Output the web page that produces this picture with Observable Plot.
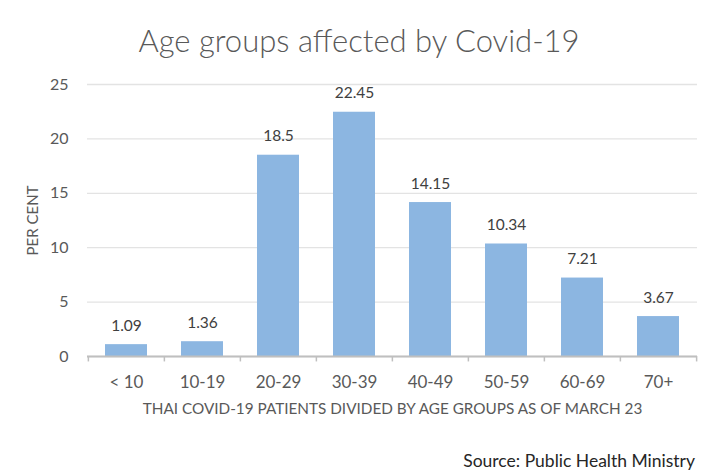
<!DOCTYPE html>
<html>
<head>
<meta charset="utf-8">
<script src="https://cdn.jsdelivr.net/npm/d3@7"></script>
<script src="https://cdn.jsdelivr.net/npm/@observablehq/plot@0.6"></script>
<style>
  html, body { margin: 0; padding: 0; background: #fff; }
  #wrap { position: relative; width: 718px; height: 476px; overflow: hidden; font-family: Lato, "Open Sans", sans-serif; }
  #title { position: absolute; left: 0; width: 718px; top: 20px; line-height: 40px; text-align: center; font-size: 31px; color: #595959; font-weight: 300; }
  #source { position: absolute; right: 23px; top: 449px; line-height: 24px; font-size: 17.5px; color: #262626; font-weight: 400; }
  #chart { position: absolute; left: 0; top: 0; }
</style>
</head>
<body>
<div id="wrap">
  <div id="chart"></div>
  <div id="title">Age groups affected by Covid-19</div>
  <div id="source">Source: Public Health Ministry</div>
</div>
<script>
const categories = ["< 10", "10-19", "20-29", "30-39", "40-49", "50-59", "60-69", "70+"];
const values = [1.09, 1.36, 18.5, 22.45, 14.15, 10.34, 7.21, 3.67];
const yTicks = [0, 5, 10, 15, 20, 25];
const yLabel = "PER CENT";
const xLabel = "THAI COVID-19 PATIENTS DIVIDED BY AGE GROUPS AS OF MARCH 23";

const data = categories.map((c, i) => ({category: c, value: values[i]}));
const step = (697 - 87) / categories.length;

const chart = Plot.plot({
  width: 718,
  height: 476,
  marginLeft: 87,
  marginRight: 21,
  marginTop: 84,
  marginBottom: 120,
  style: {fontFamily: "Lato, 'Open Sans', sans-serif", background: "#fff"},
  x: {domain: categories, paddingInner: 0.45, paddingOuter: 0.225, label: null},
  y: {domain: [0, 25], ticks: yTicks, label: null},
  marks: [
    Plot.gridY(yTicks, {stroke: "#e3e3e3", strokeOpacity: 1, strokeWidth: 1.3}),
    Plot.barY(data, {x: "category", y: "value", fill: "#8cb6e1"}),
    Plot.ruleY([0], {stroke: "#bfbfbf", strokeWidth: 2}),
    Plot.ruleX(categories, {x: d => d, dx: -step / 2, y1: 0, y2: -0.5, stroke: "#bfbfbf", strokeWidth: 1.5}),
    Plot.ruleX(categories.slice(-1), {x: d => d, dx: step / 2, y1: 0, y2: -0.5, stroke: "#bfbfbf", strokeWidth: 1.5}),
    Plot.text(data, {x: "category", y: "value", text: d => String(d.value), dy: -19, fontSize: 15.5, fill: "#404040"}),
    Plot.axisX({tickSize: 0, tickPadding: 19, fontSize: 17, color: "#595959", label: null}),
    Plot.axisY(yTicks, {tickSize: 0, tickPadding: 19, fontSize: 16, color: "#595959", label: null}),
    Plot.text([yLabel], {text: d => d, frameAnchor: "left", textAnchor: "middle", lineAnchor: "middle", rotate: -90, dx: -54, fontSize: 15, fill: "#595959"}),
    Plot.text([xLabel], {text: d => d, frameAnchor: "bottom", textAnchor: "middle", lineAnchor: "middle", dy: 53, fontSize: 15.3, fill: "#595959"})
  ]
});
document.getElementById("chart").appendChild(chart);
</script>
</body>
</html>
